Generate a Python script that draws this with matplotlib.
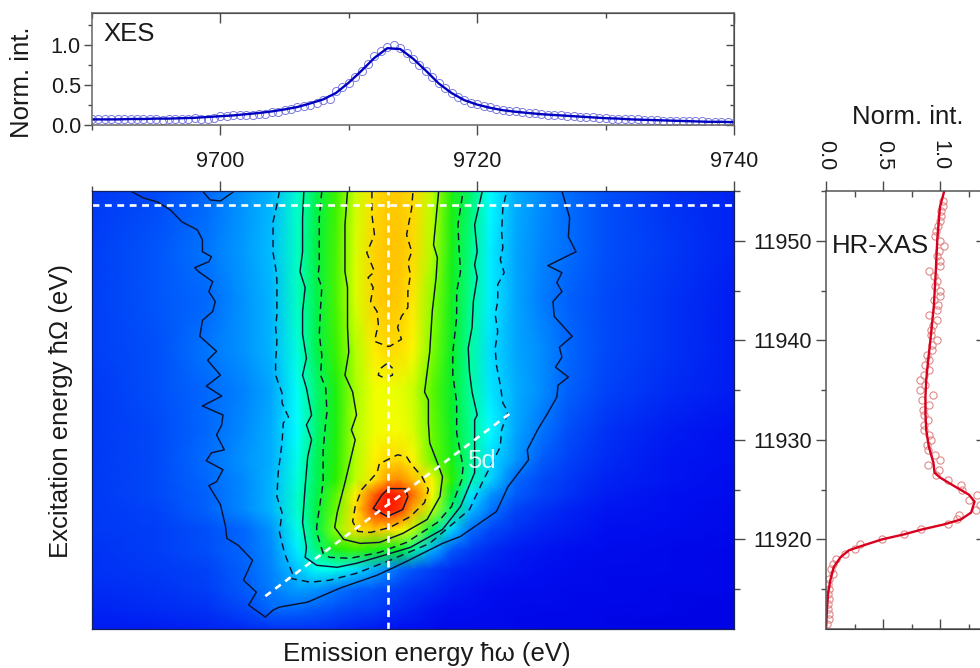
import numpy as np
import matplotlib
matplotlib.use("Agg")
import matplotlib.pyplot as plt
from matplotlib.colors import LinearSegmentedColormap
from matplotlib.ticker import MultipleLocator

plt.rcParams['font.family'] = ['Liberation Sans', 'DejaVu Sans']

# XES cut (top panel)
xes_fit_x = np.arange(9690, 9741)
xes_fit = [.07, .07, .07, .075, .075, .08, .08, .085, .09, .10,
           .11, .12, .135, .15, .17, .195, .225, .27, .32, .40,
           .53, .68, .84, .96, .95, .83, .68, .52, .40, .31,
           .255, .215, .185, .165, .15, .135, .125, .115, .105, .095,
           .085, .08, .07, .065, .06, .055, .05, .045, .04, .04, .035]
xes_x = np.arange(9690, 9740.5, 0.5)
xes_data = [.07, .07, .07, .07, .075, .07, .075, .07, .08, .07,
            .075, .06, .075, .075, .08, .08, .085, .08, .08, .09,
            .11, .115, .12, .12, .125, .13, .135, .14, .16, .16,
            .19, .20, .22, .24, .25, .27, .31, .33, .42, .47,
            .53, .60, .68, .76, .86, .93, .97, 1.0, .96, .90,
            .83, .75, .68, .60, .52, .46, .40, .35, .31, .28,
            .26, .24, .22, .20, .19, .18, .17, .16, .15, .145,
            .135, .13, .125, .12, .115, .11, .105, .10, .095, .09,
            .085, .08, .08, .075, .07, .07, .065, .06, .06, .055,
            .055, .05, .05, .05, .045, .045, .04, .04, .04, .035, .03]

# HR-XAS cut (right panel)
xas_fit_e = [11911.1, 11913.2, 11914.6, 11915.9, 11917.2, 11918.2, 11918.9, 11919.3, 11920.0,
             11920.5, 11921.0, 11921.5, 11922.0, 11922.7, 11923.8, 11924.5, 11925.3, 11926.2,
             11926.7, 11927.7, 11929.3, 11931.0, 11932.7, 11934.3, 11936.0, 11937.0, 11940.2,
             11943.5, 11946.8, 11950.2, 11953.4, 11955.0]
xas_fit = [0.0, .01, .018, .038, .067, .126, .20, .30, .49,
           .68, .84, 1.03, 1.18, 1.27, 1.30, 1.25, 1.13, 1.0,
           .95, .94, .90, .877, .87, .87, .877, .885, .915,
           .944, .96, .974, .997, 1.035]
xas_e = np.arange(11911.5, 11954.5, 0.5)
xas_data = [.01, .03, .03, .02, .015, .025, .02, .025, .02, .025,
            .06, .04, .06, .09, .17, .25, .30, .49, .68, .83,
            1.07, 1.15, 1.16, 1.31, 1.345, 1.25, 1.325, 1.19, 1.18, 1.07,
            .965, .99, .895, .995, .95, .895, .88, .915, .90, .857,
            .86, .895, .857, .85, .905, .84, .935, .82, .865, .82,
            .858, .90, .87, .90, .88, .93, .925, .975, .915, .915,
            .935, .97, .905, .97, .98, .945, 1.0, 1.0, .955, .975,
            .945, .905, 1.0, 1.0, .975, .99, 1.035, 1.0, .955, .96,
            .98, .995, 1.005, 1.01, 1.02, 1.025]

# RIXS map, normalized intensity read on a coarse grid
map_x = [9690, 9695, 9699, 9702, 9704, 9706, 9707.5, 9709, 9710.5, 9712, 9713, 9714,
         9715, 9716.5, 9718, 9719.5, 9721, 9723, 9725, 9727, 9730, 9735, 9740]
map_y = [11911, 11913, 11915, 11917, 11919, 11921, 11923, 11924.5, 11926, 11928,
         11931, 11935, 11939, 11944, 11949, 11955]
map_z = [
    [.07, .07, .08, .09, .10, .10, .10, .09, .08, .07, .06, .05, .05, .04, .03, .03, .03, .03, .02, .02, .02, .01, .01],
    [.08, .09, .10, .14, .19, .19, .17, .15, .13, .12, .10, .09, .08, .06, .05, .05, .04, .03, .03, .03, .02, .02, .01],
    [.09, .10, .12, .17, .22, .26, .25, .21, .18, .16, .14, .12, .10, .09, .07, .06, .05, .04, .04, .03, .03, .02, .02],
    [.10, .11, .13, .18, .23, .31, .39, .40, .34, .28, .24, .19, .16, .12, .09, .08, .07, .06, .05, .04, .03, .03, .02],
    [.10, .12, .15, .19, .24, .36, .49, .60, .63, .60, .58, .56, .47, .29, .17, .12, .09, .07, .06, .05, .04, .03, .02],
    [.11, .12, .15, .19, .25, .40, .53, .68, .85, .89, .87, .81, .72, .52, .33, .20, .14, .10, .08, .07, .05, .04, .03],
    [.11, .13, .18, .24, .29, .42, .54, .66, .85, .98, 1.0, .98, .91, .72, .50, .30, .21, .13, .10, .08, .06, .05, .03],
    [.11, .14, .18, .24, .29, .42, .53, .65, .81, .96, 1.0, .99, .95, .78, .55, .35, .25, .17, .13, .10, .07, .05, .04],
    [.11, .14, .19, .24, .29, .41, .52, .62, .72, .84, .92, .93, .90, .79, .62, .45, .33, .19, .14, .11, .08, .06, .04],
    [.11, .14, .20, .25, .28, .40, .52, .61, .71, .81, .86, .86, .80, .66, .59, .47, .34, .25, .17, .13, .09, .06, .05],
    [.11, .14, .19, .24, .28, .38, .50, .60, .71, .76, .77, .77, .74, .66, .57, .47, .38, .27, .21, .15, .10, .07, .05],
    [.11, .15, .19, .23, .27, .39, .50, .60, .70, .76, .76, .75, .73, .65, .56, .46, .35, .28, .24, .18, .13, .09, .07],
    [.12, .15, .21, .25, .29, .41, .53, .63, .71, .82, .86, .85, .79, .67, .57, .46, .34, .27, .24, .19, .14, .10, .07],
    [.12, .16, .19, .25, .29, .43, .53, .64, .74, .87, .89, .88, .83, .68, .58, .47, .36, .27, .22, .18, .14, .10, .07],
    [.12, .16, .21, .26, .30, .43, .54, .64, .74, .87, .89, .89, .86, .71, .59, .48, .36, .27, .23, .20, .15, .11, .08],
    [.11, .14, .19, .25, .29, .42, .53, .63, .73, .85, .88, .88, .86, .72, .60, .50, .38, .28, .24, .20, .15, .10, .08],
]

# contour traces (emission, excitation)
c1_x = [9693.0, 9694.0, 9695.1, 9696.1, 9697.0, 9698.2, 9698.6, 9698.6, 9699.3, 9699.1, 9698.0, 9698.3, 9699.4,
        9699.1, 9699.6, 9699.4, 9698.6, 9698.4, 9699.7, 9699.0, 9700.0, 9698.9, 9700.1, 9698.6, 9700.2, 9700.1,
        9699.7, 9700.3, 9699.3, 9698.9, 9700.2, 9699.7, 9699.1, 9700.0, 9700.4, 9700.5, 9701.4, 9702.5, 9701.8,
        9702.8, 9702.2, 9703.5, 9704.1, 9704.6, 9706.8, 9709.3, 9712.2, 9714.2, 9717.3, 9718.7, 9721.5, 9722.4,
        9724.0, 9723.9, 9724.7, 9725.5, 9726.2, 9726.3, 9727.1, 9726.1, 9726.6, 9726.4, 9727.4, 9726.0, 9725.9,
        9726.6, 9726.2, 9726.6, 9725.5, 9727.7, 9727.1, 9727.2, 9726.6]
c1_y = [11955, 11954.3, 11953.9, 11953.1, 11951.9, 11951.1, 11950.1, 11948.9, 11948.4, 11947.9, 11947.3, 11946.9, 11945.9,
        11944.9, 11943.9, 11942.9, 11942.0, 11940.4, 11938.9, 11938.0, 11936.5, 11935.4, 11934.4, 11933.4, 11932.5, 11931.5,
        11930.5, 11929.0, 11928.7, 11927.9, 11927.0, 11925.8, 11925.4, 11923.5, 11921.3, 11920.1, 11919.4, 11917.9, 11915.9,
        11914.7, 11913.4, 11912.2, 11912.9, 11913.2, 11913.7, 11915.1, 11916.4, 11917.6, 11919.6, 11920.3, 11922.8, 11925.3,
        11928.0, 11929.0, 11931.0, 11932.7, 11934.3, 11935.5, 11936.3, 11937.3, 11938.3, 11939.3, 11940.4, 11942.4, 11943.9,
        11944.9, 11945.8, 11946.8, 11947.5, 11948.9, 11950.4, 11952.3, 11955]
arc_x = [9698.6, 9699.2, 9700.0, 9701.1]
arc_y = [11955, 11954.1, 11954.0, 11955]
c2_x = [9704.6, 9704.4, 9704.1, 9704.1, 9704.1, 9704.3, 9704.4, 9704.4, 9704.4, 9704.3, 9704.4, 9704.3, 9704.3, 9704.8,
        9704.8, 9705.3, 9704.9, 9704.8, 9704.5, 9704.4, 9704.8, 9704.6, 9705.0, 9705.6, 9705.4, 9707.0, 9708.5, 9710.6,
        9713.2, 9716.3, 9719.4, 9720.5, 9721.8, 9721.9, 9722.4, 9722.0, 9721.8, 9721.5, 9721.4, 9721.6, 9721.4, 9721.6,
        9721.6, 9722.1, 9721.8, 9722.0, 9721.9, 9722.0, 9722.3]
c2_y = [11955, 11953.6, 11951.9, 11950.3, 11948.8, 11947.3, 11946.1, 11944.3, 11942.6, 11941.3, 11939.9, 11937.8, 11936.5, 11934.7,
        11933.7, 11932.3, 11931.7, 11929.7, 11926.7, 11924.3, 11922.7, 11920.7, 11918.6, 11916.6, 11916.1, 11915.7, 11915.9, 11916.6,
        11917.9, 11919.6, 11923.0, 11926.0, 11929.3, 11931.0, 11932.8, 11933.7, 11935.5, 11937.5, 11939.2, 11940.9, 11942.6, 11943.9,
        11945.6, 11946.8, 11948.1, 11949.3, 11950.9, 11953.3, 11955]
c3_x = [9706.5, 9706.4, 9706.4, 9706.2, 9706.6, 9706.4, 9706.4, 9706.7, 9706.4, 9706.7, 9707.1, 9706.7, 9707.1, 9706.8,
        9706.6, 9706.4, 9706.7, 9706.6, 9707.5, 9709.1, 9710.6, 9712.2, 9714.8, 9717.3, 9718.7, 9719.8, 9719.8, 9720.0,
        9719.6, 9719.4, 9719.3, 9719.6, 9719.7, 9720.0, 9719.8, 9720.0, 9719.8, 9720.4]
c3_y = [11955, 11952.3, 11948.9, 11946.9, 11945.3, 11942.9, 11940.6, 11938.2, 11936.5, 11935.2, 11932.5, 11931.5, 11930.0, 11928.3,
        11925.3, 11921.7, 11919.2, 11918.2, 11917.4, 11917.2, 11917.6, 11918.2, 11919.2, 11921.0, 11923.3, 11926.7, 11932.0, 11932.5,
        11934.8, 11936.8, 11939.2, 11941.3, 11943.9, 11946.3, 11947.6, 11948.9, 11951.6, 11955]
c4_x = [9707.9, 9707.7, 9707.7, 9707.7, 9707.6, 9707.9, 9707.8, 9707.7, 9707.9, 9707.8, 9708.2, 9708.3, 9708.2, 9708.0,
        9708.0, 9707.5, 9707.5, 9708.0, 9708.5, 9710.1, 9712.4, 9714.5, 9716.9, 9718.0, 9718.8, 9718.9, 9718.4, 9718.4,
        9718.4, 9718.1, 9718.1, 9718.4, 9718.4, 9718.7, 9718.6, 9718.5, 9718.9]
c4_y = [11955, 11952.3, 11948.9, 11947.6, 11946.4, 11945.3, 11943.3, 11940.6, 11938.5, 11936.5, 11935.2, 11932.8, 11931.7, 11929.0,
        11925.7, 11921.3, 11920.7, 11918.6, 11918.2, 11918.1, 11918.7, 11919.7, 11921.7, 11923.3, 11926.0, 11927.3, 11930.7, 11932.0,
        11933.8, 11936.5, 11938.8, 11942.3, 11944.9, 11946.9, 11948.9, 11951.6, 11955]
c5_x = [9709.9, 9709.7, 9709.7, 9709.9, 9709.9, 9710.0, 9709.7, 9710.3, 9710.6, 9710.2, 9710.5, 9709.7, 9709.1, 9708.9,
        9709.6, 9710.9, 9712.4, 9714.2, 9716.1, 9717.1, 9717.3, 9716.9, 9716.3, 9716.2, 9716.2, 9715.9, 9716.3, 9716.5,
        9716.8, 9716.9, 9716.6, 9717.0]
c5_y = [11955, 11951.6, 11946.9, 11945.3, 11941.3, 11938.8, 11936.5, 11934.8, 11932.5, 11931.0, 11930.0, 11925.7, 11922.7, 11921.2,
        11920.0, 11919.6, 11919.7, 11920.6, 11922.0, 11924.3, 11926.3, 11927.7, 11929.7, 11931.7, 11934.0, 11934.8, 11938.8, 11942.9,
        11946.3, 11948.3, 11949.6, 11955]
ridge_x = [9711.8, 9711.8, 9712.0, 9711.4, 9712.0, 9711.5, 9711.9, 9711.7, 9712.2, 9712.3, 9712.0, 9713.0, 9713.2, 9714.1,
           9713.8, 9714.1, 9714.6, 9714.6, 9714.8, 9714.6, 9714.9, 9714.5, 9714.9, 9715.0]
ridge_y = [11955, 11952.6, 11950.6, 11948.8, 11946.9, 11946.3, 11945.3, 11943.9, 11942.9, 11941.6, 11939.9, 11939.4, 11939.4, 11940.1,
           11941.3, 11942.4, 11943.3, 11944.9, 11946.6, 11947.8, 11948.9, 11950.6, 11953.3, 11955]
loop_x = [9713.0, 9713.4, 9713.4, 9712.8, 9712.3, 9712.4, 9713.0]
loop_y = [11937.7, 11937.2, 11936.5, 11936.2, 11936.5, 11937.1, 11937.7]
peak_x = [9712.7, 9713.8, 9714.5, 9714.9, 9715.7, 9716.2, 9715.9, 9714.8, 9713.2, 9711.7, 9710.7, 9710.3, 9710.5, 9711.0,
          9712.2, 9712.4, 9712.7]
peak_y = [11927.8, 11928.5, 11928.3, 11927.5, 11926.3, 11925.0, 11923.7, 11922.3, 11921.2, 11920.7, 11920.8, 11921.8, 11923.3, 11925.0,
          11926.7, 11927.7, 11927.8]
core_x = [9713.1, 9714.4, 9714.6, 9714.2, 9713.0, 9711.9, 9712.6, 9713.1]
core_y = [11925.1, 11925.1, 11924.3, 11923.0, 11922.3, 11923.1, 11924.5, 11925.1]

diag_x = [9703.5, 9722.6]
diag_y = [11914.3, 11932.7]

jet_nodes = [(0.00, (0, 0, 225)), (0.05, (0, 15, 240)), (0.10, (0, 50, 245)), (0.20, (0, 110, 255)),
             (0.30, (0, 190, 255)), (0.38, (0, 255, 255)), (0.45, (0, 255, 170)), (0.55, (0, 240, 50)),
             (0.62, (40, 240, 0)), (0.68, (140, 255, 0)), (0.76, (240, 255, 0)), (0.80, (255, 245, 0)),
             (0.85, (255, 225, 0)), (0.90, (255, 190, 0)), (0.95, (255, 110, 0)), (1.00, (255, 20, 0))]
rixs_cmap = LinearSegmentedColormap.from_list(
    "rixs", [(v, tuple(c / 255 for c in rgb)) for v, rgb in jet_nodes], N=512)

W, H = 980, 668
fig = plt.figure(figsize=(W / 100, H / 100), dpi=100)


def axes_px(left, top, right, bottom):
    return fig.add_axes([left / W, 1 - bottom / H, (right - left) / W, (bottom - top) / H])


grey = '#4a4a4a'
ink = '#1a1a1a'
lab = 18.5
tick = 15.6

# top panel
ax = axes_px(92, 13, 734, 125)
ax.plot(xes_x, xes_data, 'o', mfc='none', mec='#7a7ae0', mew=0.7, ms=5.8)
ax.plot(xes_fit_x, xes_fit, color='#0000c0', lw=1.7)
ax.set_xlim(9690, 9740)
ax.set_ylim(0, 1.4)
ax.set_yticks([0, 0.5, 1.0])
ax.set_yticklabels(['0.0', '0.5', '1.0'])
ax.set_xticks([9700, 9720, 9740])
ax.xaxis.set_minor_locator(MultipleLocator(10))
ax.yaxis.set_minor_locator(MultipleLocator(0.25))
ax.tick_params(axis='x', which='major', direction='out', length=7, width=1, color=grey,
               labelsize=tick, labelcolor=ink, pad=12)
ax.tick_params(axis='x', which='minor', direction='out', length=3.5, width=1, color=grey)
ax.tick_params(axis='y', which='major', direction='out', length=6, width=1, color=grey,
               labelsize=tick, labelcolor=ink, pad=2)
ax.tick_params(axis='y', which='minor', direction='out', length=3, width=1, color=grey)
for s in ax.spines.values():
    s.set_color('#666666')
    s.set_linewidth(1.1)
# inward ticks on the other two sides
topx = ax.secondary_xaxis('top')
topx.set_xticks([9700, 9720, 9740])
topx.set_xticklabels([])
topx.xaxis.set_minor_locator(MultipleLocator(10))
topx.tick_params(axis='x', which='major', direction='in', length=7, width=1, color=grey)
topx.tick_params(axis='x', which='minor', direction='in', length=3.5, width=1, color=grey)
rightx = ax.secondary_yaxis('right')
rightx.set_yticks([0, 0.5, 1.0])
rightx.set_yticklabels([])
rightx.yaxis.set_minor_locator(MultipleLocator(0.25))
rightx.tick_params(axis='y', which='major', direction='in', length=6, width=1, color=grey)
rightx.tick_params(axis='y', which='minor', direction='in', length=3, width=1, color=grey)
fig.text(103 / W, 1 - 34 / H, 'XES', fontsize=lab, va='center', ha='left', color=ink)
fig.text(22 / W, 1 - 82 / H, 'Norm. int.', fontsize=lab, rotation=90, va='center', ha='center', color=ink)

# map
ax = axes_px(92, 191, 734, 629)
ax.pcolormesh(map_x, map_y, np.array(map_z), cmap=rixs_cmap, vmin=0, vmax=1, shading='gouraud', rasterized=True)
solid = dict(color='#0a1432', lw=1.05, ls='-', solid_joinstyle='round')
dashed = dict(color='#0a1432', lw=1.05, ls=(0, (5, 3.5)))
for x, y in [(c1_x, c1_y), (arc_x, arc_y), (c3_x, c3_y), (c5_x, c5_y), (core_x, core_y)]:
    ax.plot(x, y, **solid)
for x, y in [(c2_x, c2_y), (c4_x, c4_y), (ridge_x, ridge_y), (loop_x, loop_y), (peak_x, peak_y)]:
    ax.plot(x, y, **dashed)
white = dict(color='white', lw=1.9, ls=(0, (2.6, 2.1)))
ax.axhline(11953.6, **white)
ax.axvline(9713.05, **white)
ax.plot(diag_x, diag_y, **white)
ax.text(9720.4, 11927.9, '5d', color='white', fontsize=lab, ha='center', va='center', alpha=0.85)
ax.set_xlim(9690, 9740)
ax.set_ylim(11911, 11955)
ax.xaxis.tick_top()
ax.yaxis.tick_right()
ax.set_xticks([9700, 9720, 9740])
ax.set_xticklabels([])
ax.xaxis.set_minor_locator(MultipleLocator(10))
ax.set_yticks([11920, 11930, 11940, 11950])
ax.yaxis.set_minor_locator(MultipleLocator(10, offset=5))
ax.tick_params(axis='x', which='major', direction='out', length=7, width=1, color=grey)
ax.tick_params(axis='x', which='minor', direction='out', length=3.5, width=1, color=grey)
ax.tick_params(axis='y', which='major', direction='out', length=8, width=1, color=grey,
               labelsize=tick, labelcolor=ink, pad=6)
ax.tick_params(axis='y', which='minor', direction='out', length=4.5, width=1, color=grey)
for s in ax.spines.values():
    s.set_color('#14205a')
    s.set_linewidth(0.9)
fig.text(427 / W, 1 - 654 / H, 'Emission energy ħω (eV)', fontsize=lab, ha='center', va='center', color=ink)
fig.text(61 / W, 1 - 411 / H, 'Excitation energy ħΩ (eV)', fontsize=lab, rotation=90, ha='center', va='center', color=ink)

# right panel, runs off the edge of the picture
ax = axes_px(826, 191, 986, 629)
ax.plot(xas_data, xas_e, 'o', mfc='none', mec='#e08888', mew=0.8, ms=5.2)
ax.plot(xas_fit, xas_fit_e, color='#d8001e', lw=1.7)
ax.set_xlim(0, 1.4)
ax.set_ylim(11911, 11955)
ax.xaxis.tick_top()
ax.set_xticks([0, 0.5, 1.0])
ax.set_xticklabels(['0.0', '0.5', '1.0'], rotation=-90)
ax.set_xticks([0.25, 0.75, 1.25], minor=True)
ax.set_yticks([11920, 11930, 11940, 11950])
ax.set_yticklabels([])
ax.yaxis.set_minor_locator(MultipleLocator(10, offset=5))
ax.tick_params(axis='x', which='major', direction='out', length=7, width=1, color=grey,
               labelsize=tick, labelcolor=ink, pad=8)
ax.tick_params(axis='x', which='minor', direction='in', length=4.5, width=1, color=grey)
ax.tick_params(axis='y', which='major', direction='out', length=7, width=1, color=grey)
ax.tick_params(axis='y', which='minor', direction='out', length=3.5, width=1, color=grey)
for s in ax.spines.values():
    s.set_color('#555555')
    s.set_linewidth(1.1)
botx = ax.secondary_xaxis('bottom')
botx.set_xticks([0, 0.5, 1.0])
botx.set_xticklabels([])
botx.set_xticks([0.25, 0.75, 1.25], minor=True)
botx.tick_params(axis='x', which='major', direction='in', length=7, width=1, color=grey)
botx.tick_params(axis='x', which='minor', direction='in', length=3.5, width=1, color=grey)
righty = ax.secondary_yaxis('right')
righty.set_yticks([11920, 11930, 11940, 11950])
righty.set_yticklabels([])
righty.tick_params(axis='y', direction='in', length=7, width=1, color=grey)
fig.text(832 / W, 1 - 246 / H, 'HR-XAS', fontsize=lab, ha='left', va='center', color=ink)
fig.text(908 / W, 1 - 117 / H, 'Norm. int.', fontsize=lab, ha='center', va='center', color=ink)

fig.savefig('out.png', dpi=100)
